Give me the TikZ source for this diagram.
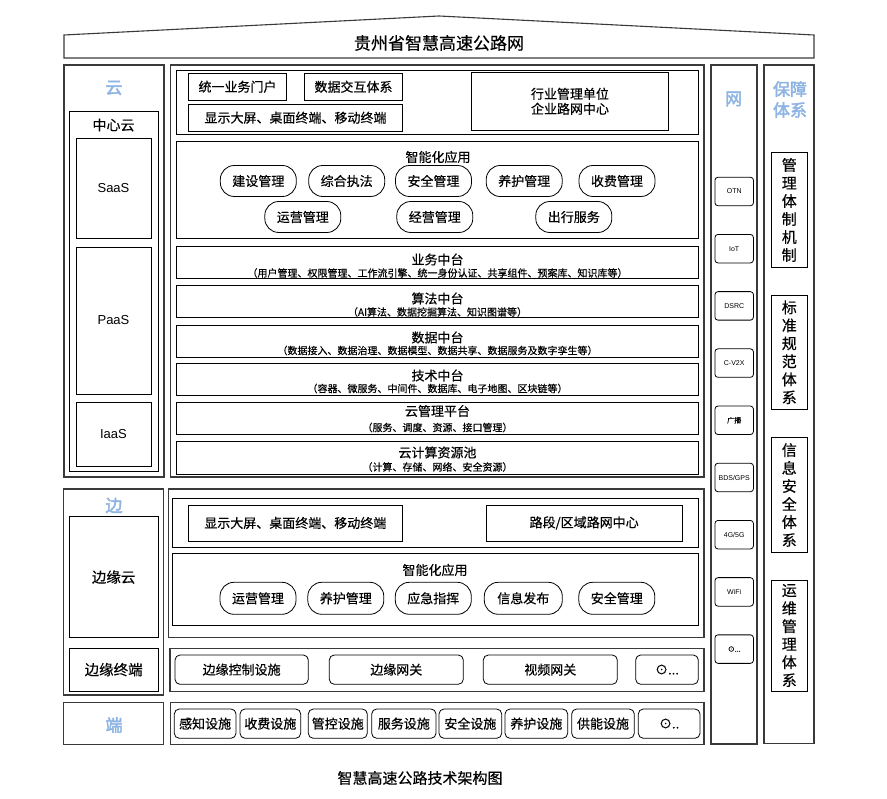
\documentclass[tikz,border=0pt]{standalone}
\usepackage{fontspec}
\setmainfont{Noto Sans CJK SC}[FakeBold=0.4]
\newfontfamily\bcjk[FakeBold=2.5]{Noto Sans CJK SC}
\newfontfamily\lat{Liberation Sans}
\definecolor{lblue}{HTML}{8EB4E3}
\definecolor{lineg}{HTML}{3A3A3A}
\newcommand\fs[1]{\fontsize{#1}{#1}\selectfont}
\newcommand\fsb[2]{\fontsize{#1}{#2}\selectfont}
\newcommand\bx[7][]{\node[#1,anchor=north west,minimum width={#4-#2},minimum height={#5-#3}] (#6) at (#2,#3) {#7};}
\tikzset{
  outerbox/.style={draw=lineg,line width=1.1pt,inner sep=0pt,outer sep=0pt},
  innerbox/.style={draw=black,line width=0.8pt,inner sep=0pt,outer sep=0pt,font=\fs{13}},
  rbox/.style={innerbox,rounded corners=5pt},
  pill/.style={draw=black,line width=0.8pt,rounded corners=14pt,minimum width=76,minimum height=31,inner sep=0pt,font=\fs{13}},
  netbox/.style={draw=black,line width=0.8pt,rounded corners=3pt,minimum width=38.5,minimum height=28.5,inner sep=0pt,font=\lat\fs{7}},
  bluelab/.style={text=lblue,font=\bcjk\fs{17},align=center,inner sep=0pt},
  lab/.style={inner sep=0pt,font=\fs{13}},
  midbox/.style={innerbox},
  vtext/.style={innerbox,align=center,font=\fsb{15}{18}},
}
\begin{document}
\begin{tikzpicture}[x=1pt,y=-1pt]
\useasboundingbox (0,0) rectangle (887,799);
% roof banner
\draw[lineg,line width=1.1pt] (64,58) -- (64,35) -- (439,16) -- (814,35) -- (814,58) -- cycle;
\node[inner sep=0pt,font=\fs{17}] (title) at (439,43) {贵州省智慧高速公路网};

% ===== cloud left column
\bx[outerbox]{64}{65}{164}{477}{cloudcol}{}
\node[bluelab] (yun) at (114,88) {云};
\bx[innerbox]{69}{111}{158}{471}{center}{}
\node[lab,font=\fs{14}] (centerlab) at (113.5,125) {中心云};
\bx[innerbox,font=\lat\fs{13}]{76}{138}{151}{238}{saas}{SaaS}
\bx[innerbox,font=\lat\fs{13}]{76}{247}{151}{394}{paas}{PaaS}
\bx[innerbox,font=\lat\fs{13}]{76}{402}{151}{466}{iaas}{IaaS}

% ===== cloud main column
\bx[outerbox]{170.5}{65}{704}{477}{cloudmain}{}
\bx[innerbox]{176.5}{70}{698.5}{134}{portal}{}
\bx[innerbox]{188.5}{73.5}{286.5}{100}{p1}{统一业务门户}
\bx[innerbox]{304.5}{73.5}{402.5}{100}{p2}{数据交互体系}
\bx[innerbox]{188.5}{104.5}{402.5}{131}{p3}{显示大屏、桌面终端、移动终端}
\bx[innerbox,align=center,font=\fsb{13}{15}]{471.5}{72.5}{668.5}{130}{p4}{行业管理单位\\企业路网中心}

\bx[innerbox]{176.5}{141.5}{698.5}{238}{apps}{}
\node[lab] (appslab) at (438,157) {智能化应用};
\node[pill] (a1) at (258.3,181) {建设管理};
\node[pill] (a2) at (346.7,181) {综合执法};
\node[pill] (a3) at (433.5,181) {安全管理};
\node[pill] (a4) at (524.2,181) {养护管理};
\node[pill] (a5) at (617,181) {收费管理};
\node[pill] (a6) at (302.8,217) {运营管理};
\node[pill] (a7) at (434.8,217) {经营管理};
\node[pill] (a8) at (573.8,217) {出行服务};

\bx[midbox]{176.5}{246}{698.5}{278.5}{m1}{}
\node[lab] at (437.5,259.5) (m1t) {业务中台};
\node[lab,font=\fs{10}] at (437.5,273) (m1s) {（用户管理、权限管理、工作流引擎、统一身份认证、共享组件、预案库、知识库等）};
\bx[midbox]{176.5}{285}{698.5}{317.6}{m2}{}
\node[lab] at (437.5,298.5) (m2t) {算法中台};
\node[lab,font=\fs{10}] at (437.5,312) (m2s) {（AI算法、数据挖掘算法、知识图谱等）};
\bx[midbox]{176.5}{325.3}{698.5}{357.7}{m3}{}
\node[lab] at (437.5,337.5) (m3t) {数据中台};
\node[lab,font=\fs{10}] at (437.5,350.5) (m3s) {（数据接入、数据治理、数据模型、数据共享、数据服务及数字孪生等）};
\bx[midbox]{176.5}{363.7}{698.5}{395.8}{m4}{}
\node[lab] at (437.5,375.5) (m4t) {技术中台};
\node[lab,font=\fs{10}] at (437.5,388.5) (m4s) {（容器、微服务、中间件、数据库、电子地图、区块链等）};
\bx[midbox]{176.5}{402.2}{698.5}{434.7}{m5}{}
\node[lab] at (437.5,411) (m5t) {云管理平台};
\node[lab,font=\fs{10}] at (437.5,427.5) (m5s) {（服务、调度、资源、接口管理）};
\bx[midbox]{176.5}{441.3}{698.5}{474}{m6}{}
\node[lab] at (437.5,452.5) (m6t) {云计算资源池};
\node[lab,font=\fs{10}] at (437.5,467) (m6s) {（计算、存储、网络、安全资源）};

% ===== network column
\bx[outerbox]{711}{65}{757}{744}{netcol}{}
\node[bluelab] (wang) at (733.5,99) {网};
\node[netbox] (n1) at (734.2,191.5) {OTN};
\node[netbox] (n2) at (734.2,248.7) {IoT};
\node[netbox] (n3) at (734.2,305.9) {DSRC};
\node[netbox] (n4) at (734.2,363.1) {C-V2X};
\node[netbox,font=\fs{7}] (n5) at (734.2,420.3) {广播};
\node[netbox] (n6) at (734.2,477.5) {BDS/GPS};
\node[netbox] (n7) at (734.2,534.7) {4G/5G};
\node[netbox] (n8) at (734.2,591.9) {WiFi};
\node[netbox,font=\fs{7}] (n9) at (734.2,649.1) {⊙...};

% ===== guarantee column
\bx[outerbox]{764}{65}{814}{743.5}{guacol}{}
\node[bluelab] (bz1) at (790,89) {保障};
\node[bluelab] (bz2) at (790,110) {体系};
\bx[vtext]{771.3}{152.7}{807.3}{267.3}{g1}{管\\理\\体\\制\\机\\制}
\bx[vtext]{771.3}{295.3}{807.3}{409.3}{g2}{标\\准\\规\\范\\体\\系}
\bx[vtext]{771.3}{437.7}{807.3}{552.3}{g3}{信\\息\\安\\全\\体\\系}
\bx[vtext]{771.3}{580}{807.3}{691}{g4}{运\\维\\管\\理\\体\\系}

% ===== edge section
\bx[outerbox]{63.5}{489}{163.5}{695}{edgecol}{}
\node[bluelab] (bian) at (114,505.5) {边};
\bx[innerbox,font=\fs{14.5}]{69}{516.5}{158.3}{637.7}{ecloud}{边缘云}
\bx[innerbox,font=\fs{14.5}]{69}{648.3}{158.3}{691}{eterm}{边缘终端}

\bx[outerbox]{168.5}{489}{704}{637.7}{edgemain}{}
\bx[innerbox]{172.3}{498.3}{698.3}{547.7}{eportal}{}
\bx[innerbox]{188.3}{505}{402.3}{541}{e1}{显示大屏、桌面终端、移动终端}
\bx[innerbox]{486}{505}{682.3}{541}{e2}{路段/区域路网中心}
\bx[innerbox]{172.3}{553.3}{698.3}{625}{eapps}{}
\node[lab] (eappslab) at (435,570) {智能化应用};
\node[pill,minimum height=32] (b1) at (258,598.3) {运营管理};
\node[pill,minimum height=32] (b2) at (345.8,598.3) {养护管理};
\node[pill,minimum height=32] (b3) at (433.3,598.3) {应急指挥};
\node[pill,minimum height=32,minimum width=78] (b4) at (523.3,598.3) {信息发布};
\node[pill,minimum height=32] (b5) at (616.8,598.3) {安全管理};

\bx[outerbox]{170}{648.3}{704}{691.7}{etrow}{}
\bx[rbox]{175}{655}{308.3}{684.3}{t1}{边缘控制设施}
\bx[rbox]{329.3}{655}{463.3}{684.3}{t2}{边缘网关}
\bx[rbox]{483.3}{655}{617.3}{684.3}{t3}{视频网关}
\bx[rbox]{635.7}{655}{698.3}{684.3}{t4}{⊙...}

% ===== terminal section
\bx[outerbox]{63.5}{702.3}{163.5}{744.3}{duancol}{}
\node[bluelab] (duan) at (114,725) {端};
\bx[outerbox]{170.7}{702.3}{704}{744.3}{drow}{}
\bx[rbox]{174.3}{709}{236}{738.3}{d1}{感知设施}
\bx[rbox]{240}{709}{300.7}{738.3}{d2}{收费设施}
\bx[rbox]{308.3}{709}{367.3}{738.3}{d3}{管控设施}
\bx[rbox]{371.7}{709}{436}{738.3}{d4}{服务设施}
\bx[rbox]{439}{709}{501.7}{738.3}{d5}{安全设施}
\bx[rbox]{505}{709}{567.7}{738.3}{d6}{养护设施}
\bx[rbox]{571.7}{709}{634.3}{738.3}{d7}{供能设施}
\bx[rbox]{638.3}{709}{700}{738.3}{d8}{⊙..}

\node[inner sep=0pt,font=\fs{15}] (caption) at (420,778) {智慧高速公路技术架构图};
\end{tikzpicture}
\end{document}
